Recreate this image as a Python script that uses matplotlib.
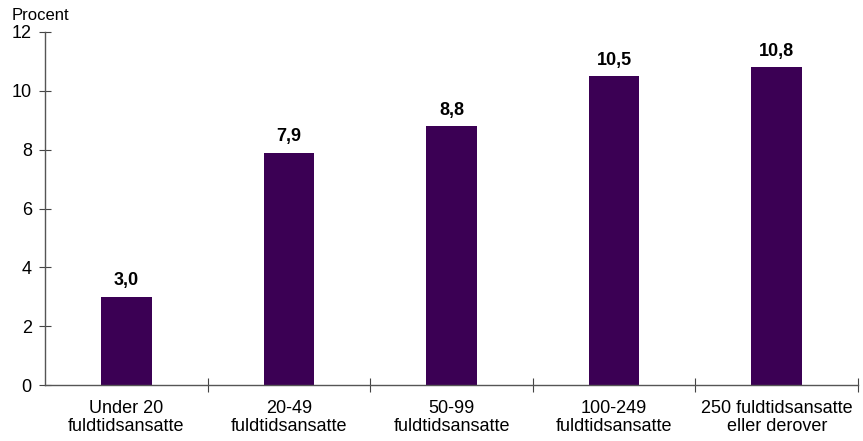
import matplotlib
matplotlib.use("Agg")
import matplotlib.pyplot as plt

categories = ["Under 20\nfuldtidsansatte", "20-49\nfuldtidsansatte", "50-99\nfuldtidsansatte",
              "100-249\nfuldtidsansatte", "250 fuldtidsansatte\neller derover"]
values = [3.0, 7.9, 8.8, 10.5, 10.8]
value_labels = ["3,0", "7,9", "8,8", "10,5", "10,8"]
yticks = [0, 2, 4, 6, 8, 10, 12]

plt.rcParams['font.family'] = ['Liberation Sans', 'DejaVu Sans']

fig = plt.figure(figsize=(8.63, 4.41), dpi=100)
ax = fig.add_axes([45/863, 1-385/441, (858-45)/863, (385-32)/441])

x = list(range(len(categories)))
ax.bar(x, values, width=0.31, color="#3B0054", zorder=2)
for xi, v, lab in zip(x, values, value_labels):
    ax.text(xi, v + 0.25, lab, ha="center", va="bottom", fontsize=13, fontweight="bold")

ax.set_xlim(-0.5, len(categories) - 0.5)
ax.set_ylim(0, 12)
ax.set_yticks(yticks)
ax.set_yticklabels([str(t) for t in yticks], fontsize=13)
ax.set_xticks([i + 0.5 for i in range(len(categories))])
ax.set_xticklabels([])
ax.set_xticks(x, minor=True)
ax.set_xticklabels(categories, minor=True, fontsize=13, linespacing=1.05)
ax.tick_params(axis="x", which="minor", length=0, pad=11)
ax.tick_params(axis="x", which="major", direction="inout", length=10, color="#444444")
ax.tick_params(axis="y", direction="inout", length=9, color="#444444", pad=5)

for s in ["top", "right"]:
    ax.spines[s].set_visible(False)
for s in ["left", "bottom"]:
    ax.spines[s].set_color("#555555")
    ax.spines[s].set_linewidth(1.0)

fig.text(12/863, 1-15/441, "Procent", fontsize=12, ha="left", va="center")

fig.savefig("out.png", dpi=100)
